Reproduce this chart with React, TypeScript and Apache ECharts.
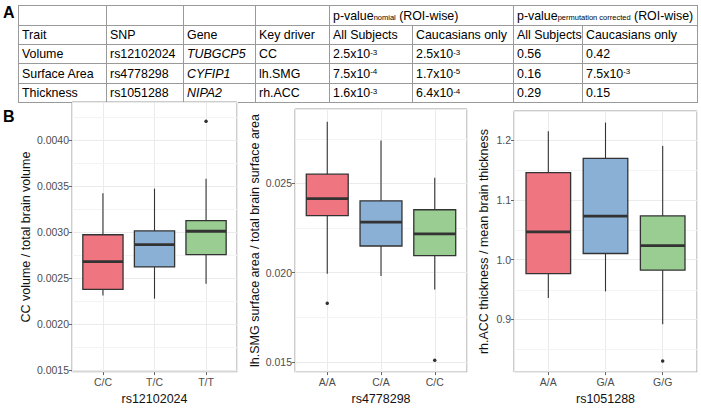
import React, { useEffect, useRef } from 'react';
import * as echarts from 'echarts';

// ---------- Table (panel A) ----------
const tableHeader = ['Trait', 'SNP', 'Gene', 'Key driver', 'All Subjects', 'Caucasians only', 'All Subjects', 'Caucasians only'];
const traits = ['Volume', 'Surface Area', 'Thickness'];
const snps = ['rs12102024', 'rs4778298', 'rs1051288'];
const genes = ['TUBGCP5', 'CYFIP1', 'NIPA2'];
const keyDrivers = ['CC', 'lh.SMG', 'rh.ACC'];
const pNominalAll = ['2.5x10^-3', '7.5x10^-4', '1.6x10^-3'];
const pNominalCaucasian = ['2.5x10^-3', '1.7x10^-5', '6.4x10^-4'];
const pPermutationAll = ['0.56', '0.16', '0.29'];
const pPermutationCaucasian = ['0.42', '7.5x10^-3', '0.15'];

// ---------- Box plots (panel B) ----------
// each stat row: [lower whisker, Q1, median, Q3, upper whisker]
const volumeGenotypes = ['C/C', 'T/C', 'T/T'];
const volumeStats = [
  [0.002313, 0.002378, 0.00268, 0.002972, 0.003424],
  [0.002278, 0.002622, 0.002865, 0.003013, 0.003473],
  [0.002441, 0.002757, 0.00301, 0.003125, 0.00358],
];
const volumeOutliers = [[2, 0.004205]]; // [genotype index, value]

const surfaceGenotypes = ['A/A', 'C/A', 'C/C'];
const surfaceStats = [
  [0.01993, 0.02319, 0.02414, 0.02551, 0.02844],
  [0.01981, 0.02149, 0.02283, 0.02402, 0.0274],
  [0.01905, 0.02095, 0.02217, 0.02352, 0.02531],
];
const surfaceOutliers = [[0, 0.01828], [2, 0.01509]];

const thicknessGenotypes = ['A/A', 'G/A', 'G/G'];
const thicknessStats = [
  [0.9357, 0.9766, 1.0465, 1.1454, 1.2149],
  [0.947, 1.0103, 1.0728, 1.1694, 1.2293],
  [0.892, 0.9824, 1.0236, 1.0732, 1.1899],
];
const thicknessOutliers = [[2, 0.8305]];

const volumeMinorTicks = [0.00175, 0.00225, 0.00275, 0.00325, 0.00375, 0.00425];
const surfaceMinorTicks = [0.0175, 0.0225, 0.0275];
const thicknessMinorTicks = [0.85, 0.95, 1.05, 1.15];

const FONT = 'Liberation Sans, Arial, Helvetica, sans-serif';
const BOX_COLORS = ['#EF7580', '#8AB0D6', '#99CD91'];
const EDGE = '#333333';
const BOX_HALF = 0.39;

const panels = [
  {
    cats: volumeGenotypes, stats: volumeStats, outliers: volumeOutliers, minor: volumeMinorTicks,
    yName: 'CC volume / total brain volume', xName: 'rs12102024',
    yMin: 0.00148, yMax: 0.004414, step: 0.0005, digits: 4,
    grid: { left: 72, top: 102, width: 165, height: 281 }, nameGap: 37,
  },
  {
    cats: surfaceGenotypes, stats: surfaceStats, outliers: surfaceOutliers, minor: surfaceMinorTicks,
    yName: 'lh.SMG surface area / total brain surface area', xName: 'rs4778298',
    yMin: 0.01443, yMax: 0.02916, step: 0.005, digits: 3,
    grid: { left: 295, top: 109, width: 172, height: 274 }, nameGap: 30,
  },
  {
    cats: thicknessGenotypes, stats: thicknessStats, outliers: thicknessOutliers, minor: thicknessMinorTicks,
    yName: 'rh.ACC thickness / mean brain thickness', xName: 'rs1051288',
    yMin: 0.812, yMax: 1.2486, step: 0.1, digits: 1,
    grid: { left: 514, top: 111, width: 183, height: 272 }, nameGap: 24,
  },
];

const colX = [18, 106, 183, 255, 329, 412, 513, 582, 697];
const rowY = [5, 25, 44, 63, 83, 102];

function richValue(s: string) {
  if (s.indexOf('^') >= 0) {
    const [a, b] = s.split('^');
    return `${a}{sup|${b}}`;
  }
  return s;
}

function buildTable() {
  const els: any[] = [];
  const lineStyle = { stroke: '#9a9a9a', lineWidth: 1 };
  rowY.forEach((y) => {
    els.push({ type: 'line', shape: { x1: colX[0], y1: y + 0.5, x2: colX[8] + 1, y2: y + 0.5 }, style: lineStyle, silent: true });
  });
  colX.forEach((x, i) => {
    const y1 = i === 5 || i === 7 ? rowY[1] : rowY[0];
    els.push({ type: 'line', shape: { x1: x + 0.5, y1, x2: x + 0.5, y2: rowY[5] + 1 }, style: lineStyle, silent: true });
  });
  const rich = {
    sup: { fontSize: 8, fontFamily: FONT, fill: '#000', verticalAlign: 'top', lineHeight: 10 },
    sub: { fontSize: 7.5, fontFamily: FONT, fill: '#000', verticalAlign: 'bottom', lineHeight: 10 },
  };
  const addText = (text: string, col: number, row: number, italic = false) => {
    els.push({
      type: 'text',
      x: colX[col] + 4,
      y: (rowY[row] + rowY[row + 1]) / 2 + 0.5,
      silent: true,
      style: {
        text, rich, fontSize: 12.4, fontFamily: FONT, fill: '#000',
        fontStyle: italic ? 'italic' : 'normal',
        align: 'left', verticalAlign: 'middle',
      },
    });
  };
  addText('p-value{sub|nomial} (ROI-wise)', 4, 0);
  addText('p-value{sub|permutation corrected} (ROI-wise)', 6, 0);
  tableHeader.forEach((h, c) => addText(h, c, 1));
  for (let r = 0; r < traits.length; r++) {
    addText(traits[r], 0, r + 2);
    addText(snps[r], 1, r + 2);
    addText(genes[r], 2, r + 2, true);
    addText(keyDrivers[r], 3, r + 2);
    addText(richValue(pNominalAll[r]), 4, r + 2);
    addText(richValue(pNominalCaucasian[r]), 5, r + 2);
    addText(richValue(pPermutationAll[r]), 6, r + 2);
    addText(richValue(pPermutationCaucasian[r]), 7, r + 2);
  }
  els.push({ type: 'text', x: 3, y: 12, silent: true, style: { text: 'A', fontSize: 16, fontWeight: 'bold', fontFamily: FONT, fill: '#000', verticalAlign: 'middle' } });
  els.push({ type: 'text', x: 3, y: 116, silent: true, style: { text: 'B', fontSize: 16, fontWeight: 'bold', fontFamily: FONT, fill: '#000', verticalAlign: 'middle' } });
  return els;
}

function buildOption() {
  const grid: any[] = [];
  const xAxis: any[] = [];
  const yAxis: any[] = [];
  const series: any[] = [];
  panels.forEach((p, i) => {
    grid.push({ ...p.grid, show: true, borderColor: '#9a9a9a', borderWidth: 1, backgroundColor: '#fff', containLabel: false });
    xAxis.push({
      gridIndex: i, type: 'value', min: 0.4, max: 3.6, minInterval: 1, maxInterval: 1, splitNumber: 3,
      axisLine: { show: false },
      axisTick: { show: true, length: 3, lineStyle: { color: '#666' } },
      axisLabel: {
        color: '#4d4d4d', fontSize: 10.5, margin: 4, fontFamily: FONT,
        showMinLabel: false, showMaxLabel: false,
        formatter: (v: number) => {
          const k = Math.round(v);
          return Math.abs(v - k) < 1e-6 && k >= 1 && k <= p.cats.length ? p.cats[k - 1] : '';
        },
      },
      splitLine: { show: true, lineStyle: { color: '#EBEBEB', width: 1 } },
      name: p.xName, nameLocation: 'middle', nameGap: 17,
      nameTextStyle: { fontSize: 12.5, color: '#111', fontFamily: FONT },
    });
    yAxis.push({
      gridIndex: i, type: 'value', min: p.yMin, max: p.yMax, minInterval: p.step, maxInterval: p.step, splitNumber: 5,
      axisLine: { show: false },
      axisTick: { show: true, length: 3, lineStyle: { color: '#666' } },
      axisLabel: {
        color: '#4d4d4d', fontSize: 10.5, margin: 3, fontFamily: FONT,
        showMinLabel: false, showMaxLabel: false,
        formatter: (v: number) => v.toFixed(p.digits),
      },
      splitLine: { show: true, lineStyle: { color: '#EBEBEB', width: 1 } },
      name: p.yName, nameLocation: 'middle', nameGap: p.nameGap,
      nameTextStyle: { fontSize: 12.5, color: '#111', fontFamily: FONT },
    });
    // minor grid lines
    series.push({
      type: 'custom', xAxisIndex: i, yAxisIndex: i, silent: true, z: 1,
      data: p.minor.map((v) => [1, v]),
      encode: { x: 0, y: 1 },
      renderItem: (params: any, api: any) => {
        const cs = params.coordSys;
        const y = Math.round(api.coord([1, api.value(1)])[1]) + 0.5;
        return { type: 'line', shape: { x1: cs.x, y1: y, x2: cs.x + cs.width, y2: y }, style: { stroke: '#F4F4F4', lineWidth: 1 } };
      },
    });
    // boxes
    series.push({
      type: 'custom', xAxisIndex: i, yAxisIndex: i, silent: true, z: 3,
      data: p.stats.map((s, k) => [k + 1, ...s]),
      encode: { x: 0, y: [1, 2, 3, 4, 5] },
      renderItem: (params: any, api: any) => {
        const x = api.value(0);
        const lo = api.value(1), q1 = api.value(2), med = api.value(3), q3 = api.value(4), hi = api.value(5);
        const tl = api.coord([x - BOX_HALF, q3]);
        const br = api.coord([x + BOX_HALF, q1]);
        const pHi = api.coord([x, hi]);
        const pLo = api.coord([x, lo]);
        const mL = api.coord([x - BOX_HALF, med]);
        const mR = api.coord([x + BOX_HALF, med]);
        return {
          type: 'group',
          children: [
            { type: 'line', shape: { x1: pHi[0], y1: pHi[1], x2: pLo[0], y2: pLo[1] }, style: { stroke: EDGE, lineWidth: 1.1 } },
            { type: 'rect', shape: { x: tl[0], y: tl[1], width: br[0] - tl[0], height: br[1] - tl[1] }, style: { fill: BOX_COLORS[params.dataIndex], stroke: EDGE, lineWidth: 1.3 } },
            { type: 'line', shape: { x1: mL[0], y1: mL[1], x2: mR[0], y2: mR[1] }, style: { stroke: EDGE, lineWidth: 2.8 } },
          ],
        };
      },
    });
    // outliers
    series.push({
      type: 'scatter', xAxisIndex: i, yAxisIndex: i, silent: true, z: 4,
      symbol: 'circle', symbolSize: 3.5,
      itemStyle: { color: '#000' },
      data: p.outliers.map(([k, v]) => [k + 1, v]),
    });
  });
  return {
    animation: false,
    backgroundColor: '#fff',
    textStyle: { fontFamily: FONT },
    grid, xAxis, yAxis, series,
    graphic: buildTable(),
  };
}

export default function App() {
  const ref = useRef<HTMLDivElement>(null);
  useEffect(() => {
    if (!ref.current) return;
    const chart = echarts.init(ref.current, null, { renderer: 'svg' });
    chart.setOption(buildOption() as any);
    return () => chart.dispose();
  }, []);
  return <div ref={ref} style={{ position: 'absolute', left: 0, top: 0, width: 701, height: 410 }} />;
}
